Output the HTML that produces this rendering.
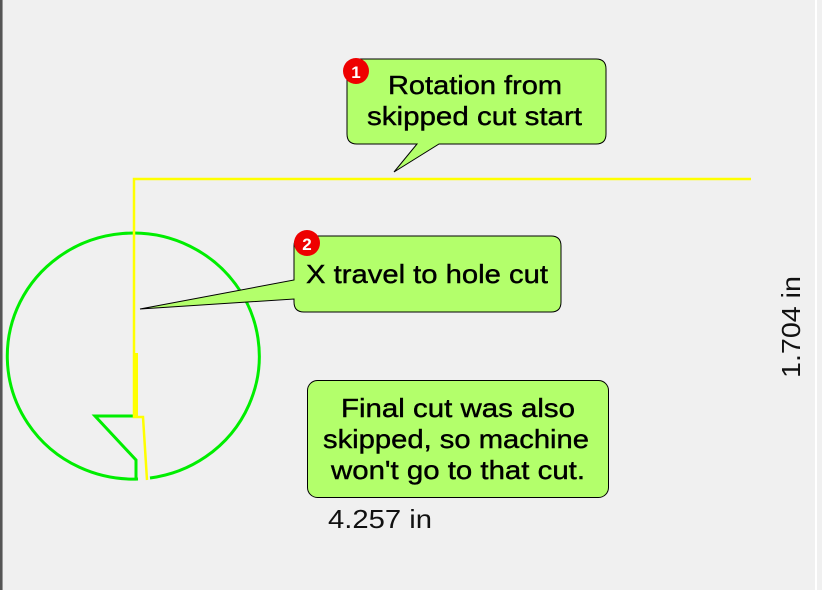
<!DOCTYPE html>
<html><head><style>
html,body{margin:0;padding:0;background:#f0f0f0;}
svg{display:block;}
text{font-family:"Liberation Sans",Arial,sans-serif;}
</style></head><body>
<svg width="822" height="590" viewBox="0 0 822 590" xmlns="http://www.w3.org/2000/svg">
<rect x="0" y="0" width="822" height="590" fill="#f0f0f0"/>
<rect x="0" y="0" width="2" height="590" fill="#555"/>
<rect x="2" y="0" width="1" height="590" fill="#999"/>
<rect x="815" y="0" width="2" height="590" fill="#ffffff"/>

<!-- green circle -->
<path d="M148,478 A126,123 0 1 0 136,479" fill="none" stroke="#00ee00" stroke-width="3" transform="translate(2,0)"/>
<path d="M136,479 L136,460 L95,416 L134,416" fill="none" stroke="#00ee00" stroke-width="3"/>

<!-- yellow path -->
<path d="M751,179 L134,179 L134,417 L143,417 L147,480" fill="none" stroke="#ffff00" stroke-width="2.5"/>
<rect x="134" y="353" width="4" height="64" fill="#ffff00"/>

<g stroke="#000" stroke-width="0.4">
<!-- callout 1 -->
<path d="M357,59 H596 Q606,59 606,69 V134 Q606,144 596,144 H439 L394,172 L417,144 H357 Q347,144 347,134 V69 Q347,59 357,59 Z" fill="#b3ff6b" stroke="#000" stroke-width="1"/>
<circle cx="356" cy="71" r="13" fill="#ee0000" stroke="none"/>
<text x="356" y="78" font-size="17" fill="#fff" stroke="none" text-anchor="middle" font-weight="bold">1</text>
<text x="388" y="94" font-size="26" textLength="174" lengthAdjust="spacingAndGlyphs">Rotation from</text>
<text x="367" y="125" font-size="26" textLength="215" lengthAdjust="spacingAndGlyphs">skipped cut start</text>

<!-- callout 2 -->
<path d="M304,236 H551 Q561,236 561,246 V302 Q561,312 551,312 H304 Q294,312 294,302 V299 L140,309 L294,280 V246 Q294,236 304,236 Z" fill="#b3ff6b" stroke="#000" stroke-width="1"/>
<circle cx="307" cy="243" r="13" fill="#ee0000" stroke="none"/>
<text x="307" y="250" font-size="17" fill="#fff" stroke="none" text-anchor="middle" font-weight="bold">2</text>
<text x="306" y="283" font-size="26" textLength="242" lengthAdjust="spacingAndGlyphs">X travel to hole cut</text>

<!-- callout 3 -->
<rect x="307.5" y="380.5" width="301" height="117" rx="10" fill="#b3ff6b" stroke="#000" stroke-width="1"/>
<text x="341" y="417" font-size="26" textLength="234" lengthAdjust="spacingAndGlyphs">Final cut was also</text>
<text x="323" y="448" font-size="26" textLength="266" lengthAdjust="spacingAndGlyphs">skipped, so machine</text>
<text x="331" y="479" font-size="26" textLength="254" lengthAdjust="spacingAndGlyphs">won't go to that cut.</text>
</g>

<text x="328" y="528" font-size="26" fill="#111" textLength="104" lengthAdjust="spacingAndGlyphs">4.257 in</text>
<text x="0" y="0" font-size="26" fill="#111" textLength="102" lengthAdjust="spacingAndGlyphs" transform="translate(800,378) rotate(-90)">1.704 in</text>
</svg>
</body></html>
